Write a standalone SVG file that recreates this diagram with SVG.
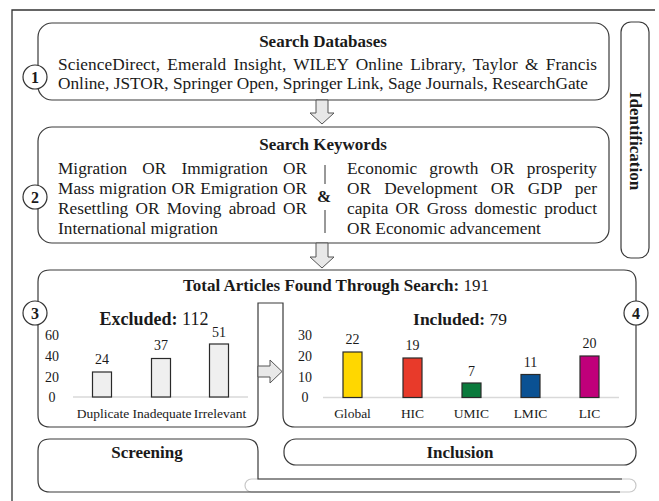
<svg xmlns="http://www.w3.org/2000/svg" width="659" height="501" viewBox="0 0 659 501">
<style>
text{font-family:"Liberation Serif","Times New Roman",serif;fill:#1a1a1a}
.b{font-weight:bold}
.t{font-size:17px;font-weight:bold;text-anchor:middle}
.body{font-size:17.3px}
.box{fill:#fff;stroke:#3a3a3a;stroke-width:1.2}
.num{fill:#fff;stroke:#333;stroke-width:1.2}
.numt{font-size:16px;font-weight:bold;text-anchor:middle}
.ax{font-size:14px;text-anchor:middle}
.cat{font-size:13.5px;text-anchor:middle}
.val{font-size:14px;text-anchor:middle}
.grid{stroke:#d9d9d9;stroke-width:1.5}
.arrow{fill:#e8e8e8;stroke:#555;stroke-width:1}
.bar{stroke:#2a2a2a;stroke-width:1.2}
</style>

<g id="frame">
<path d="M12,501 V10 H655" fill="none" stroke="#333" stroke-width="1.3"/>
</g>

<g id="identification">
<rect x="621" y="22" width="28" height="236" rx="10" class="box"/>
<text class="t" transform="translate(630,141) rotate(90)">Identification</text>
</g>

<g id="search-databases">
<rect x="38" y="23" width="571" height="77" rx="14" class="box"/>
<text class="t" x="323" y="47">Search Databases</text>
<text class="body" x="58" y="70" word-spacing="2.8" textLength="539" lengthAdjust="spacing">ScienceDirect, Emerald Insight, WILEY Online Library, Taylor &amp; Francis</text>
<text class="body" x="58" y="89">Online, JSTOR, Springer Open, Springer Link, Sage Journals, ResearchGate</text>
<circle cx="35" cy="77" r="12" class="num"/>
<text class="numt" x="35" y="82.5">1</text>
</g>

<g id="search-keywords">
<rect x="38" y="127" width="571" height="116" rx="14" class="box"/>
<text class="t" x="323" y="150">Search Keywords</text>
<text class="body" x="58" y="174" word-spacing="10.8" textLength="249" lengthAdjust="spacing">Migration OR Immigration OR</text>
<text class="body" x="58" y="194" word-spacing="0.5" textLength="249" lengthAdjust="spacing">Mass migration OR Emigration OR</text>
<text class="body" x="58" y="214" word-spacing="2.9" textLength="249" lengthAdjust="spacing">Resettling OR Moving abroad OR</text>
<text class="body" x="58" y="234">International migration</text>
<line x1="325" y1="165" x2="325" y2="184" stroke="#333" stroke-width="1"/>
<line x1="325" y1="210" x2="325" y2="233" stroke="#333" stroke-width="1"/>
<text class="t" x="324" y="202">&amp;</text>
<text class="body" x="347" y="174" word-spacing="7.9" textLength="250" lengthAdjust="spacing">Economic growth OR prosperity</text>
<text class="body" x="347" y="194" word-spacing="8.7" textLength="250" lengthAdjust="spacing">OR Development OR GDP per</text>
<text class="body" x="347" y="214" word-spacing="2.9" textLength="250" lengthAdjust="spacing">capita OR Gross domestic product</text>
<text class="body" x="347" y="234">OR Economic advancement</text>
<circle cx="35" cy="197" r="12" class="num"/>
<text class="numt" x="35" y="202.5">2</text>
</g>

<g id="search-results">
<path class="box" d="M50,270 H624 Q636,270 636,282 V415 Q636,427 624,427 H295 Q283,427 283,415 V303 H258 V415 Q258,427 246,427 H50 Q38,427 38,415 V282 Q38,270 50,270 Z"/>
<text x="336" y="291" style="font-size:17px;text-anchor:middle"><tspan class="b">Total Articles Found Through Search:</tspan> 191</text>
<circle cx="35" cy="313" r="12" class="num"/>
<text class="numt" x="35" y="318.5">3</text>
<circle cx="636" cy="313" r="12" class="num"/>
<text class="numt" x="636" y="318.5">4</text>
</g>

<g id="excluded-chart">
<text x="154" y="325" style="font-size:18px;text-anchor:middle"><tspan class="b">Excluded:</tspan> 112</text>
<text class="ax" x="52" y="340">60</text>
<text class="ax" x="52" y="361">40</text>
<text class="ax" x="52" y="382">20</text>
<text class="ax" x="52" y="402">0</text>
<line class="grid" x1="73" y1="397" x2="248" y2="397"/>
<rect class="bar" x="92.5" y="372" width="19" height="25" fill="#efefef"/>
<rect class="bar" x="151.5" y="358.5" width="19" height="38.5" fill="#efefef"/>
<rect class="bar" x="209.5" y="344" width="19" height="53" fill="#efefef"/>
<text class="val" x="102" y="364">24</text>
<text class="val" x="161" y="350">37</text>
<text class="val" x="219" y="337">51</text>
<text class="cat" x="103" y="418">Duplicate</text>
<text class="cat" x="162" y="418">Inadequate</text>
<text class="cat" x="220" y="418">Irrelevant</text>
</g>

<g id="included-chart">
<text x="460" y="325" style="font-size:17.5px;text-anchor:middle"><tspan class="b">Included:</tspan> 79</text>
<text class="ax" x="305" y="340">30</text>
<text class="ax" x="305" y="361">20</text>
<text class="ax" x="305" y="382">10</text>
<text class="ax" x="305" y="402">0</text>
<line class="grid" x1="323" y1="397.5" x2="619" y2="397.5"/>
<rect class="bar" x="343" y="352" width="19" height="45.5" fill="#ffd700"/>
<rect class="bar" x="403" y="358" width="19" height="39.5" fill="#e83a2a"/>
<rect class="bar" x="462" y="383" width="19" height="14.5" fill="#0a7a3c"/>
<rect class="bar" x="521" y="374.5" width="19" height="23" fill="#0a5193"/>
<rect class="bar" x="580" y="356" width="19" height="41.5" fill="#c0007a"/>
<text class="val" x="352.5" y="344">22</text>
<text class="val" x="412.5" y="350">19</text>
<text class="val" x="471.5" y="376">7</text>
<text class="val" x="530.5" y="367">11</text>
<text class="val" x="589.5" y="348">20</text>
<text class="cat" x="352.5" y="418">Global</text>
<text class="cat" x="412.5" y="418">HIC</text>
<text class="cat" x="471.5" y="418">UMIC</text>
<text class="cat" x="530.5" y="418">LMIC</text>
<text class="cat" x="589.5" y="418">LIC</text>
</g>

<g id="screening">
<rect x="245" y="479" width="391" height="13" rx="6.5" fill="#fff" stroke="#c8c8c8" stroke-width="1.2"/>
<path d="M622,479 H258 V451 Q258,439 246,439 H50 Q38,439 38,451 V480 Q38,492 50,492 H620" fill="none" stroke="#3a3a3a" stroke-width="1.2"/>
<text class="t" x="147" y="458">Screening</text>
</g>

<g id="inclusion">
<rect x="284" y="439" width="352" height="26" rx="12" class="box"/>
<text class="t" x="460" y="458">Inclusion</text>
</g>

<g id="connectors">
<polygon class="arrow" points="316,100 328,100 328,113 334,113 322,124 310,113 316,113"/>
<polygon class="arrow" points="316,243 328,243 328,257 334,257 322,268 310,257 316,257"/>
<polygon class="arrow" points="258,366 270,366 270,360 282,371.5 270,383 270,377 258,377"/>
</g>
</svg>
